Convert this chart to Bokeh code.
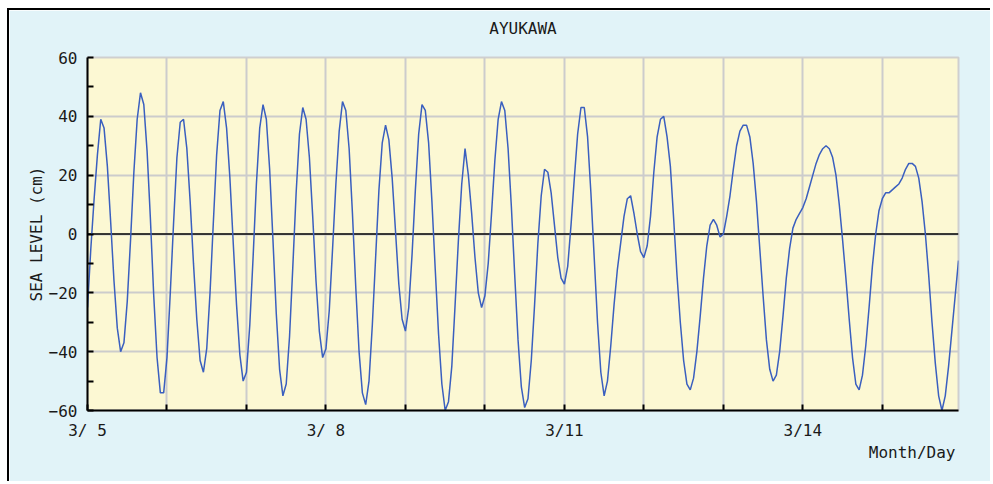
from bokeh.plotting import figure
from bokeh.models import Range1d, FixedTicker, Span, ColumnDataSource, Title
from bokeh.embed import file_html
from bokeh.resources import INLINE

title_text = "AYUKAWA"
y_label = "SEA LEVEL (cm)"
x_label = "Month/Day"

# days since 3/5 00:00
day_ticks = [0, 1, 2, 3, 4, 5, 6, 7, 8, 9, 10]
day_labels = {0: "3/ 5", 3: "3/ 8", 6: "3/11", 9: "3/14"}
y_ticks = [-60, -40, -20, 0, 20, 40, 60]
y_minor = [-50, -30, -10, 10, 30, 50]

# hourly sea level (cm), starting 3/5 00:00
sea_level = [
    -25, -5, 12, 27, 39, 36, 23, 4, -16, -32, -40, -37, -23, -2, 21, 39, 48, 44, 28, 5,
    -21, -42, -54, -54, -42, -20, 4, 26, 38, 39, 29, 11, -10, -29, -43, -47, -39, -20, 4, 27,
    42, 45, 36, 19, -3, -24, -41, -50, -47, -31, -8, 17, 36, 44, 39, 22, -2, -27, -46, -55,
    -51, -35, -11, 14, 34, 43, 39, 26, 6, -16, -33, -42, -39, -26, -5, 17, 35, 45, 42, 29,
    7, -18, -40, -54, -58, -50, -31, -8, 15, 31, 37, 32, 19, 1, -17, -29, -33, -25, -7, 15,
    34, 44, 42, 31, 11, -12, -34, -51, -60, -57, -45, -24, -2, 17, 29, 20, 7, -8, -20,
    -25, -21, -10, 7, 25, 39, 45, 42, 29, 9, -14, -36, -52, -59, -56, -43, -24, -3, 13, 22,
    21, 14, 3, -8, -15, -17, -11, 3, 19, 34, 43, 43, 33, 14, -8, -30, -47, -55, -50, -38,
    -24, -12, -3, 6, 12, 13, 7, 0, -6, -8, -4, 6, 21, 33, 39, 40, 33, 23, 5, -14,
    -30, -43, -51, -53, -49, -40, -28, -15, -4, 3, 5, 3, -1, 0, 6, 13, 22, 30, 35, 37,
    37, 33, 24, 11, -5, -21, -36, -46, -50, -48, -40, -28, -15, -5, 2, 5, 7, 9, 12, 16,
    20, 24, 27, 29, 30, 29, 26, 20, 10, -2, -15, -29, -42, -51, -53, -48, -38, -25, -11, 0,
    8, 12, 14, 14, 15, 16, 17, 19, 22, 24, 24, 23, 19, 11, 0, -14, -30, -44, -55, -60,
    -55, -45, -33, -21, -9,
]

source = ColumnDataSource(dict(
    t=[i / 24 for i in range(len(sea_level))],
    v=sea_level,
))
x_end = (len(sea_level) - 1) / 24

FONT = "DejaVu Sans Mono"
TXT = "#1a1a1a"

p = figure(
    width=983, height=473,
    output_backend="svg", toolbar_location=None,
    x_range=Range1d(0, x_end), y_range=Range1d(-60, 60),
    min_border_left=78, min_border_right=34, min_border_top=47, min_border_bottom=73,
    background_fill_color="#fcf8d3", border_fill_color="#e1f3f8",
)
p.styles = {"border-top": "2px solid black", "border-left": "2px solid black",
            "margin-top": "8px", "margin-left": "7px"}
p.outline_line_color = "#cfcfcf"
p.outline_line_width = 2

# spacer between frame and title, then the title itself
p.add_layout(Title(text=" ", text_font_size="1px", standoff=17), "above")
p.title.text = title_text
p.title.align = "center"
p.title.vertical_align = "bottom"
p.title.text_font = FONT
p.title.text_font_size = "16px"
p.title.text_font_style = "normal"
p.title.text_color = TXT
p.title.standoff = 0

# axes
p.xaxis.ticker = FixedTicker(ticks=day_ticks)
p.xaxis.major_label_overrides = {t: day_labels.get(t, "") for t in day_ticks}
p.yaxis.ticker = FixedTicker(ticks=y_ticks, minor_ticks=y_minor)
for ax in (p.xaxis, p.yaxis):
    ax.axis_line_color = "black"
    ax.axis_line_width = 2
    ax.major_tick_in = 6
    ax.major_tick_out = 0
    ax.major_tick_line_color = "black"
    ax.major_tick_line_width = 2
    ax.major_label_text_font = FONT
    ax.major_label_text_font_size = "16px"
    ax.major_label_text_color = TXT
    ax.major_label_standoff = 10
p.yaxis.minor_tick_in = 6
p.yaxis.minor_tick_out = 0
p.yaxis.minor_tick_line_color = "black"
p.yaxis.minor_tick_line_width = 2
p.xaxis.minor_tick_line_color = None

p.yaxis.axis_label = y_label
p.yaxis.axis_label_text_font = FONT
p.yaxis.axis_label_text_font_size = "16px"
p.yaxis.axis_label_text_font_style = "normal"
p.yaxis.axis_label_text_color = TXT
p.yaxis.axis_label_standoff = 0

p.add_layout(Title(text=x_label, align="right", vertical_align="top",
                   text_font=FONT, text_font_size="16px", text_font_style="normal",
                   text_color=TXT, standoff=0, offset=3), "below")

# grids
p.xgrid.grid_line_color = "#cccccc"
p.xgrid.grid_line_width = 2
p.ygrid.ticker = FixedTicker(ticks=y_ticks)
p.ygrid.grid_line_color = "#cccccc"
p.ygrid.grid_line_width = 2

p.add_layout(Span(location=0, dimension="width", line_color="black",
                  line_width=1.5, level="underlay"))

p.line("t", "v", source=source, line_color="#3a5fbf", line_width=1.5)

open("out.html", "w").write(file_html(p, INLINE))
